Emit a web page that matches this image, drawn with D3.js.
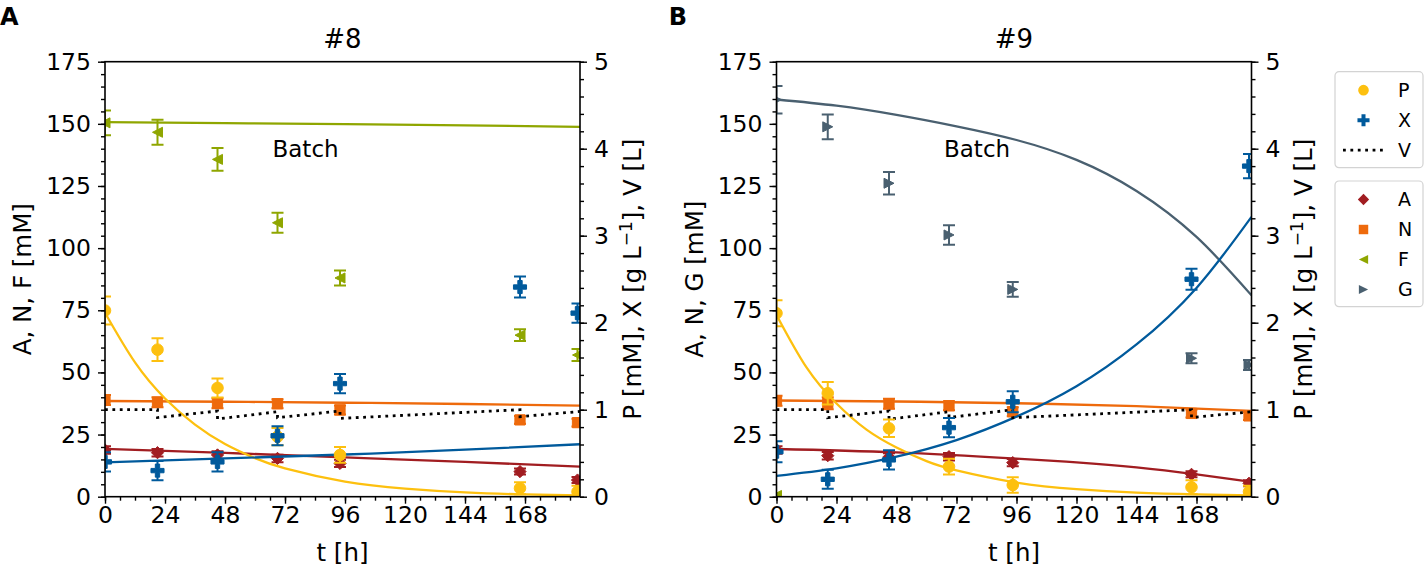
<!DOCTYPE html>
<html>
<head>
<meta charset="utf-8">
<script src="https://cdn.jsdelivr.net/npm/d3@7"></script>
<style>
  body { margin: 0; background: #fff; }
  svg { font-family: "DejaVu Sans", sans-serif; }
  .tick text { fill: #000; }
  .tick line { stroke: #000; stroke-width: 1.4px; }
</style>
</head>
<body>
<div id="chart"></div>
<script>
// ---- data, panel A (#8) ----
var t8 = [0, 21, 45, 69, 94, 166, 189];
var F8 = [150.4, 146.6, 135.7, 110.2, 88, 65, 57];
var F8err = [5, 5, 4.6, 4, 3, 2.4, 2.4];
var N8 = [38.9, 38.0, 37.6, 37.4, 34.9, 30.9, 29.8];
var N8err = [2, 2, 2, 1.8, 1.8, 1.6, 1.6];
var A8 = [18.8, 17.7, 16.8, 15.4, 13.4, 10.1, 6.7];
var A8err = [1.5, 1.5, 1.5, 1.5, 1.5, 1.2, 1.2];
var P8 = [2.14, 1.69, 1.25, 0.69, 0.48, 0.097, 0.057];
var P8err = [0.16, 0.13, 0.11, 0.10, 0.09, 0.07, 0.07];
var X8 = [0.40, 0.30, 0.40, 0.70, 1.30, 2.41, 2.11];
var X8err = [0.11, 0.11, 0.11, 0.11, 0.11, 0.12, 0.11];

// model curves, panel A
var tFine = [0, 12, 24, 36, 48, 60, 72, 96, 120, 144, 168, 190];
var tCoarse = [0, 48, 96, 144, 190];
var F8fit = [150.7, 150.3, 149.9, 149.4, 148.8];
var N8fit = [38.5, 38.2, 37.8, 37.3, 36.6];
var A8fit = [19.2, 17.6, 15.8, 14.0, 12.1];
var X8fit = [0.394, 0.44, 0.485, 0.54, 0.603];
var P8fit = [2.114, 1.543, 1.129, 0.829, 0.606, 0.443, 0.326, 0.174, 0.094, 0.05, 0.026, 0.014];
var vt8 = [0, 21, 21, 45, 45, 69, 69, 94, 94, 166, 166, 190];
var V8 = [1.0, 1.0, 0.91, 0.985, 0.893, 0.977, 0.908, 0.985, 0.90, 1.0, 0.92, 0.98];

// ---- data, panel B (#9) ----
var t9 = [0, 20.5, 45, 69, 94.5, 166, 189];
var G9 = [159.7, 148.8, 126.1, 105.3, 83.4, 55.7, 53];
var G9err = [5.5, 5, 4.5, 3.9, 3, 2, 2];
var N9 = [38.6, 37.6, 37.4, 36.6, 34.2, 33.5, 32.5];
var N9err = [2, 2.4, 2, 1.8, 1.8, 1.6, 1.6];
var A9 = [18.8, 16.5, 16.0, 16.1, 13.7, 9.0, 5.4];
var A9err = [1.5, 1.5, 1.5, 1.5, 1.5, 1.2, 1.2];
var P9 = [2.109, 1.189, 0.786, 0.346, 0.134, 0.109, 0.057];
var P9err = [0.15, 0.13, 0.10, 0.09, 0.09, 0.08, 0.07];
var X9 = [0.517, 0.2, 0.423, 0.794, 1.091, 2.5, 3.8];
var X9err = [0.12, 0.11, 0.11, 0.11, 0.12, 0.12, 0.14];
var tF9 = [0];
var F9 = [0.5];
var F9err = [0];

var tG = [0, 24, 48, 72, 96, 120, 144, 168, 190];
var G9fit = [159.8, 157.3, 153.6, 149, 143.5, 135.5, 123, 104.5, 81];
var X9fit = [0.24, 0.326, 0.46, 0.651, 0.92, 1.27, 1.75, 2.40, 3.217];
var P9fit = [2.089, 1.486, 1.071, 0.771, 0.566, 0.409, 0.303, 0.163, 0.086, 0.046, 0.026, 0.014];
var N9fit = [38.7, 38.3, 37.6, 36.4, 34.5];
var tA9 = [0, 48, 96, 120, 144, 168, 190];
var A9fit = [19.2, 17.8, 15.3, 13.8, 11.8, 9.0, 6.0];
var vt9 = [0, 20.5, 20.5, 45, 45, 69, 69, 94.5, 94.5, 166, 166, 190];
var V9 = [1.0, 1.0, 0.908, 0.985, 0.89, 0.977, 0.91, 1.0, 0.908, 1.0, 0.91, 0.977];

// ticks
var xTicks = [0, 24, 48, 72, 96, 120, 144, 168];
var leftTicks = [0, 25, 50, 75, 100, 125, 150, 175];
var rightTicks = [0, 1, 2, 3, 4, 5];

var colors = {P: "#fdc00f", X: "#005a9c", A: "#a11d21", N: "#ee6a0c", F: "#8fa600", G: "#4a6070", V: "#000"};

// custom marker shapes (matplotlib-like)
var symLeft = {draw: function (c, s) { var r = Math.sqrt(s) / 2; c.moveTo(-r, 0); c.lineTo(r, -r); c.lineTo(r, r); c.closePath(); }};
var symRight = {draw: function (c, s) { var r = Math.sqrt(s) / 2; c.moveTo(r, 0); c.lineTo(-r, -r); c.lineTo(-r, r); c.closePath(); }};
var symDiamond = {draw: function (c, s) { var r = Math.sqrt(s) / 2; c.moveTo(0, -r); c.lineTo(r, 0); c.lineTo(0, r); c.lineTo(-r, 0); c.closePath(); }};
var markers = {
  P: {type: d3.symbolCircle, size: 105},
  X: {type: d3.symbolCross, size: 95},
  A: {type: symDiamond, size: 150},
  N: {type: d3.symbolSquare, size: 105},
  F: {type: symLeft, size: 100},
  G: {type: symRight, size: 100}
};

var W = 1427, H = 568;
var top_ = 61.7, plotW = 475, plotH = 435;
var tickFont = 23.5, labelFont = 24.5;

var svg = d3.select("#chart").append("svg")
  .attr("width", W).attr("height", H);

function zip(ts, vs, es) {
  return ts.map(function (t, i) { return {t: t, v: vs[i], e: es ? es[i] : 0}; });
}

function drawPanel(cfg) {
  var g = svg.append("g").attr("transform", "translate(" + cfg.left + "," + top_ + ")");
  var x = d3.scaleLinear().domain([0, 190]).range([0, plotW]);
  var yL = d3.scaleLinear().domain([0, 175]).range([plotH, 0]);
  var yR = d3.scaleLinear().domain([0, 5]).range([plotH, 0]);

  var clipId = "clip" + cfg.id;
  g.append("clipPath").attr("id", clipId)
    .append("rect").attr("width", plotW).attr("height", plotH);
  var plot = g.append("g").attr("clip-path", "url(#" + clipId + ")");

  function fitLine(ts, vs, y, col) {
    plot.append("path")
      .datum(zip(ts, vs))
      .attr("fill", "none")
      .attr("stroke", col)
      .attr("stroke-width", 2.3)
      .attr("d", d3.line()
        .x(function (d) { return x(d.t); })
        .y(function (d) { return y(d.v); })
        .curve(d3.curveNatural));
  }

  function points(ts, vs, es, y, key) {
    var col = colors[key];
    var data = zip(ts, vs, es);
    var eb = plot.append("g").attr("stroke", col).attr("stroke-width", 2);
    data.forEach(function (d) {
      if (!d.e) return;
      var x0 = x(d.t), y1 = y(d.v - d.e), y2 = y(d.v + d.e);
      eb.append("line").attr("x1", x0).attr("x2", x0).attr("y1", y1).attr("y2", y2);
      eb.append("line").attr("x1", x0 - 6).attr("x2", x0 + 6).attr("y1", y1).attr("y2", y1);
      eb.append("line").attr("x1", x0 - 6).attr("x2", x0 + 6).attr("y1", y2).attr("y2", y2);
    });
    plot.append("g").selectAll("path")
      .data(data)
      .enter().append("path")
      .attr("transform", function (d) { return "translate(" + x(d.t) + "," + y(d.v) + ")"; })
      .attr("d", d3.symbol().type(markers[key].type).size(markers[key].size))
      .attr("fill", col)
      .attr("stroke", col)
      .attr("stroke-width", 1);
  }

  // left axis series
  cfg.left_series.forEach(function (s) {
    points(s.t, s.v, s.e, yL, s.key);
  });
  cfg.left_fits.forEach(function (s) {
    fitLine(s.t, s.v, yL, colors[s.key]);
  });

  // right axis series
  cfg.right_fits.forEach(function (s) {
    fitLine(s.t, s.v, yR, colors[s.key]);
  });
  plot.append("path")
    .datum(zip(cfg.vt, cfg.V))
    .attr("fill", "none")
    .attr("stroke", "#000")
    .attr("stroke-width", 2.8)
    .attr("stroke-dasharray", "2.8,4.6")
    .attr("d", d3.line().x(function (d) { return x(d.t); }).y(function (d) { return yR(d.v); }));
  cfg.right_series.forEach(function (s) {
    points(s.t, s.v, s.e, yR, s.key);
  });

  // "Batch" annotation
  g.append("text")
    .attr("x", x(67)).attr("y", yL(140))
    .attr("dy", "0.35em")
    .attr("font-size", 23)
    .text("Batch");

  // axes
  function styleAxis(sel) {
    sel.select(".domain").remove();
    sel.selectAll(".tick text").attr("font-size", tickFont).attr("font-family", "DejaVu Sans");
  }
  g.append("g").attr("transform", "translate(0," + plotH + ")")
    .call(d3.axisBottom(x).tickValues(d3.range(0, 191, 6)).tickSize(4).tickFormat(""))
    .call(styleAxis);
  g.append("g").attr("transform", "translate(0," + plotH + ")")
    .call(d3.axisBottom(x).tickValues(xTicks).tickSize(7).tickPadding(3).tickFormat(d3.format("d")))
    .call(styleAxis);
  g.append("g")
    .call(d3.axisLeft(yL).tickValues(d3.range(0, 176, 5)).tickSize(4).tickFormat(""))
    .call(styleAxis);
  g.append("g")
    .call(d3.axisLeft(yL).tickValues(leftTicks).tickSize(7).tickPadding(7).tickFormat(d3.format("d")))
    .call(styleAxis);
  g.append("g").attr("transform", "translate(" + plotW + ",0)")
    .call(d3.axisRight(yR).tickValues(d3.range(0, 26).map(function (i) { return i / 5; })).tickSize(4).tickFormat(""))
    .call(styleAxis);
  g.append("g").attr("transform", "translate(" + plotW + ",0)")
    .call(d3.axisRight(yR).tickValues(rightTicks).tickSize(7).tickPadding(7).tickFormat(d3.format("d")))
    .call(styleAxis);

  // frame
  g.append("rect")
    .attr("width", plotW).attr("height", plotH)
    .attr("fill", "none").attr("stroke", "#000").attr("stroke-width", 1.6);

  // labels
  g.append("text")
    .attr("x", plotW / 2).attr("y", -14)
    .attr("text-anchor", "middle")
    .attr("font-size", 26)
    .text(cfg.title);
  g.append("text")
    .attr("x", plotW / 2).attr("y", plotH + 64)
    .attr("text-anchor", "middle")
    .attr("font-size", labelFont)
    .text("t [h]");
  g.append("text")
    .attr("transform", "translate(" + cfg.ylabelX + "," + (plotH / 2) + ") rotate(-90)")
    .attr("text-anchor", "middle")
    .attr("dy", "0.35em")
    .attr("font-size", labelFont)
    .text(cfg.ylabel);
  var rl = g.append("text")
    .attr("transform", "translate(" + (plotW + 52) + "," + (plotH / 2) + ") rotate(-90)")
    .attr("text-anchor", "middle")
    .attr("dy", "0.35em")
    .attr("font-size", labelFont);
  rl.append("tspan").text("P [mM], X [g L");
  rl.append("tspan").attr("font-size", 17).attr("dy", "-9").text("\u22121");
  rl.append("tspan").attr("dy", "9").text("], V [L]");

  svg.append("text")
    .attr("x", cfg.letterX).attr("y", 25)
    .attr("text-anchor", cfg.letterAnchor)
    .attr("font-size", 24)
    .attr("font-weight", "bold")
    .text(cfg.letter);
}

drawPanel({
  id: "A", left: 105, title: "#8", letter: "A", letterX: 0, letterAnchor: "start",
  ylabel: "A, N, F [mM]", ylabelX: -83,
  left_series: [
    {key: "F", t: t8, v: F8, e: F8err},
    {key: "N", t: t8, v: N8, e: N8err},
    {key: "A", t: t8, v: A8, e: A8err}
  ],
  left_fits: [
    {key: "F", t: tCoarse, v: F8fit},
    {key: "N", t: tCoarse, v: N8fit},
    {key: "A", t: tCoarse, v: A8fit}
  ],
  right_fits: [
    {key: "P", t: tFine, v: P8fit},
    {key: "X", t: tCoarse, v: X8fit}
  ],
  right_series: [
    {key: "P", t: t8, v: P8, e: P8err},
    {key: "X", t: t8, v: X8, e: X8err}
  ],
  vt: vt8, V: V8
});

drawPanel({
  id: "B", left: 776.5, title: "#9", letter: "B", letterX: 678, letterAnchor: "middle",
  ylabel: "A, N, G [mM]", ylabelX: -82,
  left_series: [
    {key: "F", t: tF9, v: F9, e: F9err},
    {key: "G", t: t9, v: G9, e: G9err},
    {key: "N", t: t9, v: N9, e: N9err},
    {key: "A", t: t9, v: A9, e: A9err}
  ],
  left_fits: [
    {key: "G", t: tG, v: G9fit},
    {key: "N", t: tCoarse, v: N9fit},
    {key: "A", t: tA9, v: A9fit}
  ],
  right_fits: [
    {key: "P", t: tFine, v: P9fit},
    {key: "X", t: tG, v: X9fit}
  ],
  right_series: [
    {key: "P", t: t9, v: P9, e: P9err},
    {key: "X", t: t9, v: X9, e: X9err}
  ],
  vt: vt9, V: V9
});

// legends
var legend1 = ["P", "X", "V"];
var legend2 = ["A", "N", "F", "G"];

function drawLegend(items, y0, h) {
  var lg = svg.append("g").attr("transform", "translate(1335," + y0 + ")");
  lg.append("rect")
    .attr("width", 88).attr("height", h)
    .attr("rx", 4).attr("ry", 4)
    .attr("fill", "#fff").attr("stroke", "#d3d3d3").attr("stroke-width", 1.2);
  items.forEach(function (k, i) {
    var yy = 18.5 + i * 30;
    if (k === "V") {
      lg.append("line")
        .attr("x1", 8).attr("x2", 50).attr("y1", yy).attr("y2", yy)
        .attr("stroke", "#000").attr("stroke-width", 2.8)
        .attr("stroke-dasharray", "2.8,4.6");
    } else {
      lg.append("path")
        .attr("transform", "translate(28.5," + yy + ")")
        .attr("d", d3.symbol().type(markers[k].type).size(markers[k].size * 0.85))
        .attr("fill", colors[k]);
    }
    lg.append("text")
      .attr("x", 63).attr("y", yy)
      .attr("dy", "0.35em")
      .attr("font-size", 19)
      .text(k);
  });
}
drawLegend(legend1, 71.7, 96);
drawLegend(legend2, 181, 125.7);
</script>
</body>
</html>
